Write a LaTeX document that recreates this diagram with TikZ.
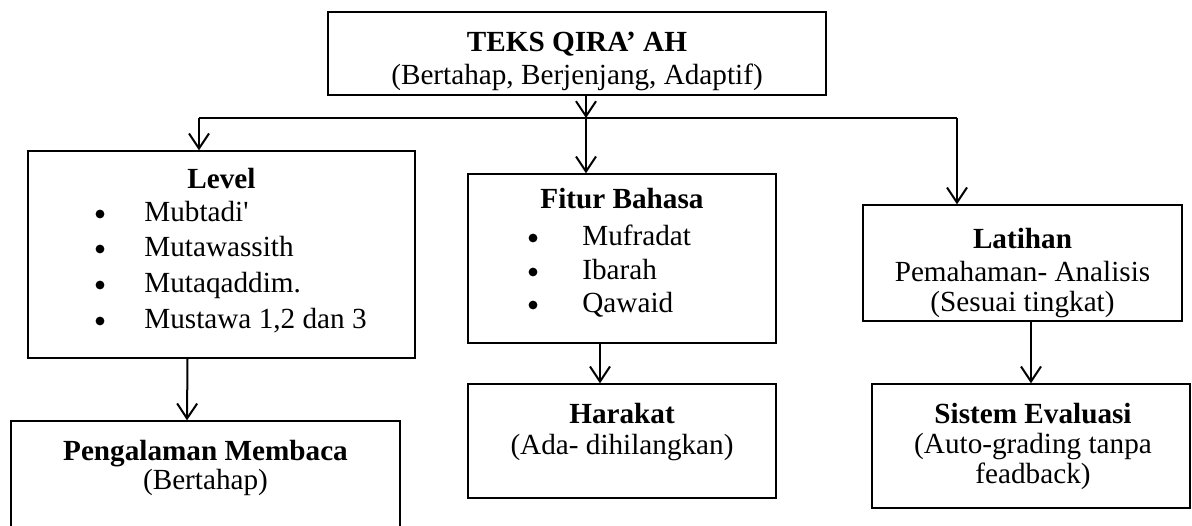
\documentclass[tikz,border=0pt]{standalone}
\usepackage{fontspec}
\setmainfont{Liberation Serif}
\usetikzlibrary{arrows.meta}

\begin{document}
\begin{tikzpicture}[x=0.5pt,y=-0.5pt]
      \tikzstyle{box}=[draw,line width=0.7pt,inner sep=0pt]
      \tikzstyle{edge}=[draw,line width=1pt,-{Straight Barb[length=7.5pt,width=10pt]}]
      \tikzstyle{txt}=[anchor=base,inner sep=0pt,font=\fontsize{14.6}{17}\selectfont]
      \tikzstyle{head}=[txt,font=\fontsize{14.6}{17}\selectfont\bfseries]
      \tikzstyle{item}=[txt,anchor=base west]
      \tikzstyle{dot}=[circle,fill,inner sep=0pt,minimum size=4.4pt]
      \useasboundingbox (0,0) rectangle (1192,525);
      % boxes
      \node[box,minimum width=249pt,minimum height=41.5pt] (teks) at (577,53.5) {};
      \node[box,minimum width=193.5pt,minimum height=103.5pt] (level) at (221.5,254.5) {};
      \node[box,minimum width=154pt,minimum height=84.5pt] (fitur) at (622,258.5) {};
      \node[box,minimum width=159.5pt,minimum height=58pt] (latihan) at (1022.5,263) {};
      \node[box,minimum width=194.5pt,minimum height=57pt] (pengalaman) at (205.5,478) {};
      \node[box,minimum width=154pt,minimum height=57pt] (harakat) at (622,441) {};
      \node[box,minimum width=159pt,minimum height=62pt] (sistem) at (1031,446) {};
      % texts
      \node[head] (teksT) at (577,51) {TEKS QIRA’ AH};
      \node[txt] (teksS) at (577,84) {(Bertahap, Berjenjang, Adaptif)};
      \node[head] (levelT) at (221.5,188) {Level};
      \node[dot] (lb1) at (100,214) {};
      \node[item] (l1) at (144,221) {Mubtadi\textquotesingle};
      \node[dot] (lb2) at (100,249) {};
      \node[item] (l2) at (144,256) {Mutawassith};
      \node[dot] (lb3) at (100,285) {};
      \node[item] (l3) at (144,292) {Mutaqaddim.};
      \node[dot] (lb4) at (100,321) {};
      \node[item] (l4) at (144,328) {Mustawa 1,2 dan 3};
      \node[head] (fiturT) at (622,208) {Fitur Bahasa};
      \node[dot] (fb1) at (533,238) {};
      \node[item] (f1) at (582,245) {Mufradat};
      \node[dot] (fb2) at (533,272) {};
      \node[item] (f2) at (582,279) {Ibarah};
      \node[dot] (fb3) at (533,305) {};
      \node[item] (f3) at (582,312) {Qawaid};
      \node[head] (latihanT) at (1022.5,248) {Latihan};
      \node[txt] (latihanS) at (1022.5,281) {Pemahaman- Analisis};
      \node[txt] (latihanU) at (1022.5,311) {(Sesuai tingkat)};
      \node[head] (pengalamanT) at (205.5,460) {Pengalaman Membaca};
      \node[txt] (pengalamanS) at (205.5,489) {(Bertahap)};
      \node[head] (harakatT) at (622,423) {Harakat};
      \node[txt] (harakatS) at (622,454) {(Ada- dihilangkan)};
      \node[head] (sistemT) at (1033,423) {Sistem Evaluasi};
      \node[txt] (sistemS) at (1033,453) {(Auto-grading tanpa};
      \node[txt] (sistemU) at (1033,483) {feadback)};
      % connectors
      \coordinate (J) at (586,118);
      \coordinate (JL) at (199,118);
      \coordinate (JR) at (957,118);
      \path[edge] (teks.south -| J) -- (J);
      \path[draw,line width=1pt] (JL) -- (JR);
      \path[edge] (JL) -- (level.north -| JL);
      \path[edge] (J) -- (fitur.north -| J);
      \path[edge] (JR) -- (latihan.north -| JR);
      \path[edge] ([xshift=-17pt]level.south) -- ([xshift=-9.25pt]pengalaman.north);
      \path[edge] ([xshift=-11pt]fitur.south) -- ([xshift=-11pt]harakat.north);
      \path[edge] ([xshift=4.25pt]latihan.south) -- (sistem.north);
    \end{tikzpicture}
\end{document}
